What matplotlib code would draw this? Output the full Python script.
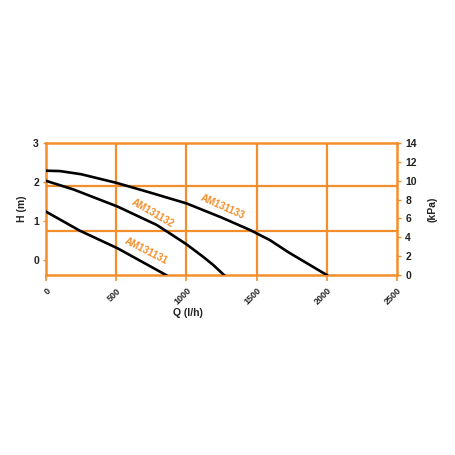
import numpy as np
import matplotlib.pyplot as plt

# pump curves, flow Q (l/h) vs head H (m)
q_133 = [0, 100, 250, 500, 741, 1002, 1250, 1453, 1595, 1726, 2000]
h_133 = [2.29, 2.28, 2.20, 1.98, 1.73, 1.45, 1.09, 0.77, 0.51, 0.20, -0.385]
q_132 = [0, 195, 510, 788, 883, 1002, 1120, 1192, 1268]
h_132 = [2.03, 1.81, 1.37, 0.90, 0.68, 0.40, 0.08, -0.13, -0.385]
q_131 = [0, 242, 510, 855]
h_131 = [1.24, 0.75, 0.30, -0.385]

names = ['AM131133', 'AM131132', 'AM131131']
name_q = [1261, 760, 715]
name_h = [1.35, 1.19, 0.22]
name_rot = [-24, -30, -27]

x_ticks = [0, 500, 1000, 1500, 2000, 2500]
h_ticks = [0, 1, 2, 3]
kpa_ticks = [0, 2, 4, 6, 8, 10, 12, 14]

orange = '#f28e2b'
dark = '#222222'
font = 'Liberation Sans'

fig = plt.figure(figsize=(4.55, 4.55), dpi=100)
ax = fig.add_axes([0.101, 0.3956, 0.7715, 0.2901])
ax.set_xlim(0, 2500)
ax.set_ylim(-0.385, 3)

# grid
for q in x_ticks[1:-1]:
    ax.axvline(q, color=orange, lw=1.6, zorder=1)
for h in [0.75, 1.90]:
    ax.axhline(h, color=orange, lw=1.6, zorder=1)

for s in ax.spines.values():
    s.set_color(orange)
    s.set_linewidth(1.8)

ax.plot(q_133, h_133, color='black', lw=1.9, zorder=3)
ax.plot(q_132, h_132, color='black', lw=1.9, zorder=3)
ax.plot(q_131, h_131, color='black', lw=1.9, zorder=3)

for n, q, h, r in zip(names, name_q, name_h, name_rot):
    ax.text(q, h, n, rotation=r, color=orange, fontsize=7, fontweight='bold',
            ha='center', va='center', rotation_mode='anchor', family=font)

ax.set_xticks(x_ticks)
ax.set_xticklabels([str(v) for v in x_ticks], rotation=45, ha='right',
                   rotation_mode='anchor', fontsize=6.5, fontweight='bold',
                   color=dark, family=font)
ax.set_yticks(h_ticks)
ax.set_yticklabels([str(v) for v in h_ticks], fontsize=7.5, fontweight='bold',
                   color=dark, family=font)
ax.tick_params(axis='x', colors=orange, length=4, width=1.2, labelcolor=dark, pad=4)
ax.tick_params(axis='y', colors=orange, length=2, width=1, labelcolor=dark, pad=3)
ax.set_xlabel('Q (l/h)', fontsize=7.5, fontweight='bold', color=dark, family=font)
ax.xaxis.set_label_coords(0.405, -0.25)
ax.set_ylabel('H (m)', fontsize=7.5, fontweight='bold', color=dark, family=font)
ax.yaxis.set_label_coords(-0.054, 0.5)

ax2 = ax.twinx()
ax2.set_ylim(0, 14)
ax2.set_yticks(kpa_ticks)
ax2.set_yticklabels([str(v) for v in kpa_ticks], fontsize=7.5, fontweight='bold',
                    color=dark, family=font)
ax2.tick_params(axis='y', colors=orange, length=3, width=1, labelcolor=dark, pad=3)
for s in ax2.spines.values():
    s.set_visible(False)
ax2.set_ylabel('(kPa)', fontsize=7.5, fontweight='bold', color=dark, family=font)
ax2.yaxis.set_label_coords(1.087, 0.5)

fig.savefig('out.png', dpi=100)
